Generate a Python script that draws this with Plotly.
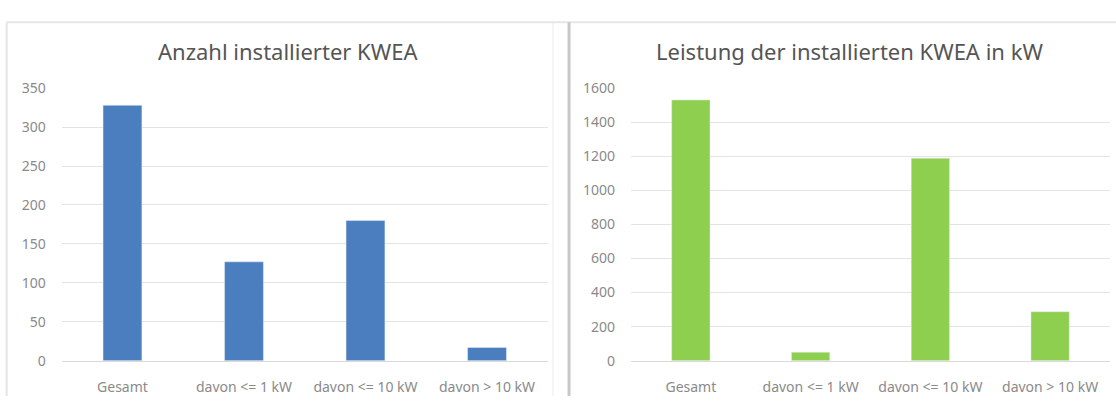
import plotly.graph_objects as go

categories = ['Gesamt', 'davon <= 1 kW', 'davon <= 10 kW', 'davon > 10 kW']
anzahl = [328, 127, 180, 17]
leistung = [1531, 50, 1189, 288]

left_ticks = [0, 50, 100, 150, 200, 250, 300, 350]
right_ticks = [0, 200, 400, 600, 800, 1000, 1200, 1400, 1600]

FONT = 'Noto Sans'
TICK_COLOR = '#8a8a8a'
GRID = '#e4e4e4'

fig = go.Figure()

fig.add_trace(go.Bar(x=categories, y=anzahl, marker_color='#4a7ebf',
                     width=0.32, xaxis='x', yaxis='y', showlegend=False))
fig.add_trace(go.Bar(x=categories, y=leistung, marker_color='#8fcf4f',
                     width=0.32, xaxis='x2', yaxis='y2', showlegend=False))

xaxis_common = dict(showgrid=False, showline=True, linecolor='#d9d9d9', linewidth=1,
                    tickfont=dict(family=FONT, size=14, color=TICK_COLOR),
                    ticklabelstandoff=13, ticks='', fixedrange=True)
yaxis_common = dict(showgrid=True, gridcolor=GRID, gridwidth=1, zeroline=False,
                    showline=False, tickfont=dict(family=FONT, size=14, color=TICK_COLOR),
                    ticklabelstandoff=15, ticks='', fixedrange=True)

fig.update_layout(
    width=1116, height=405,
    margin=dict(l=0, r=0, t=0, b=0),
    paper_bgcolor='white', plot_bgcolor='white',
    xaxis=dict(domain=[0.0553, 0.4908], anchor='y', **xaxis_common),
    yaxis=dict(domain=[0.0914, 0.7975], anchor='x', range=[0, 350],
               tickvals=left_ticks, **yaxis_common),
    xaxis2=dict(domain=[0.5654, 0.9946], anchor='y2', **xaxis_common),
    yaxis2=dict(domain=[0.0914, 0.7975], anchor='x2', range=[0, 1600],
                tickvals=right_ticks, **yaxis_common),
    annotations=[
        dict(text='Anzahl installierter KWEA', x=0.258, y=0.894, xref='paper', yref='paper',
             showarrow=False, xanchor='center', yanchor='middle',
             font=dict(family=FONT, size=22, color='#555555')),
        dict(text='Leistung der installierten KWEA in kW', x=0.761, y=0.894, xref='paper',
             yref='paper', showarrow=False, xanchor='center', yanchor='middle',
             font=dict(family=FONT, size=22, color='#555555')),
    ],
    shapes=[
        # panel frames
        dict(type='line', xref='paper', yref='paper', x0=0.006, x1=1, y0=0.968, y1=0.968,
             line=dict(color='#e6e6e6', width=2)),
        dict(type='line', xref='paper', yref='paper', x0=0.006, x1=0.006, y0=0, y1=0.968,
             line=dict(color='#e6e6e6', width=2)),
        dict(type='line', xref='paper', yref='paper', x0=0.4955, x1=0.4955, y0=0, y1=0.968,
             line=dict(color='#ececec', width=1)),
        dict(type='line', xref='paper', yref='paper', x0=0.5099, x1=0.5099, y0=0, y1=0.968,
             line=dict(color='#c8c8c8', width=3)),
    ],
)

# drop the browser's default page margin so the figure sits at 0,0
fig.write_html("out.html", post_script="document.body.style.margin='0';",
               config={'displayModeBar': False})
